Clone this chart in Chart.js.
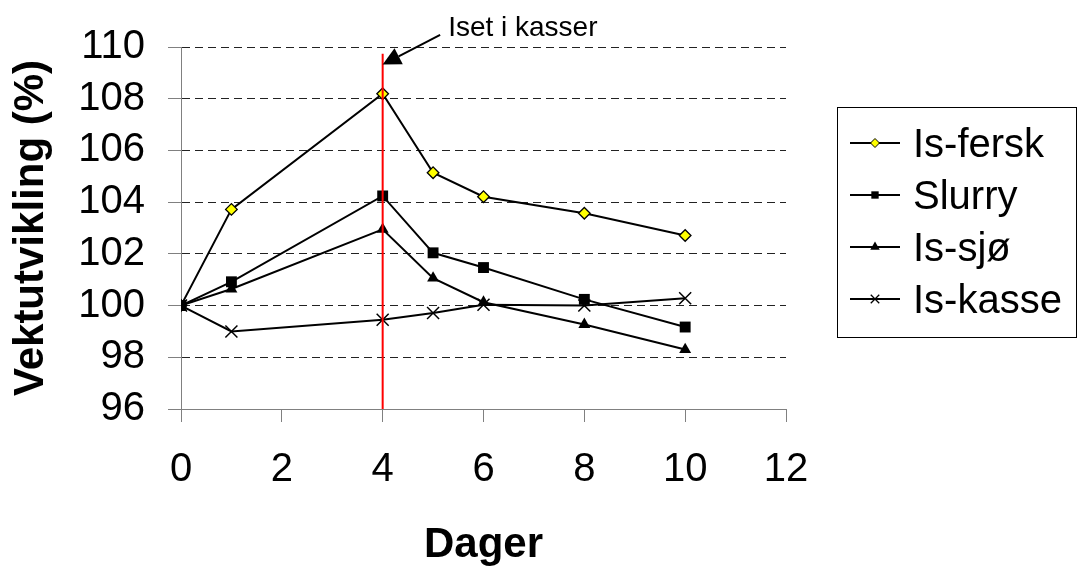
<!DOCTYPE html>
<html>
<head>
<meta charset="utf-8">
<script src="https://cdn.jsdelivr.net/npm/chart.js@4/dist/chart.umd.min.js"></script>
<style>
html,body{margin:0;padding:0;background:#fff;overflow:hidden}
canvas{display:block}
</style>
</head>
<body>
<canvas id="c" width="1077" height="566"></canvas>
<script>
// ---- data ----
const days = [0, 1, 4, 5, 6, 8, 10];
const isFersk = [100, 103.72, 108.19, 105.14, 104.21, 103.57, 102.71];
const slurry = [100, 100.92, 104.24, 102.04, 101.47, 100.24, 99.17];
const isSjo = [100, 100.64, 102.95, 101.06, 100.13, 99.27, 98.30];
const isKasse = [100, 99.00, 99.45, 99.71, 100.03, 100.00, 100.28];
const seriesNames = ['Is-fersk', 'Slurry', 'Is-sjø', 'Is-kasse'];
const xTickValues = [0, 2, 4, 6, 8, 10, 12];
const yTickValues = [96, 98, 100, 102, 104, 106, 108, 110];
const xTitle = 'Dager';
const yTitle = 'Vektutvikling (%)';
const eventDay = 4;
const eventLineTop = 109.74;
const eventLabel = 'Iset i kasser';
const arrowFrom = {x: 5.14, y: 110.47};
const arrowTip = {x: 4, y: 109.32};

const FONT = "'Liberation Sans', Arial, Helvetica, sans-serif";
const pts = vals => days.map((d, i) => ({x: d, y: vals[i]}));

function drawMarker(ctx, style, x, y, r, fill, stroke, lw) {
  ctx.save();
  ctx.fillStyle = fill; ctx.strokeStyle = stroke; ctx.lineWidth = lw;
  ctx.beginPath();
  if (style === 'rectRot') {
    ctx.moveTo(x - r, y); ctx.lineTo(x, y - r); ctx.lineTo(x + r, y); ctx.lineTo(x, y + r); ctx.closePath();
    ctx.fill(); ctx.stroke();
  } else if (style === 'rect') {
    const s = Math.SQRT1_2 * r;
    ctx.rect(x - s, y - s, 2 * s, 2 * s); ctx.fill(); if (lw > 0) ctx.stroke();
  } else if (style === 'triangle') {
    let a = 0;
    ctx.moveTo(x + Math.sin(a) * r, y - Math.cos(a) * r);
    a += 2 * Math.PI / 3; ctx.lineTo(x + Math.sin(a) * r, y - Math.cos(a) * r);
    a += 2 * Math.PI / 3; ctx.lineTo(x + Math.sin(a) * r, y - Math.cos(a) * r);
    ctx.closePath(); ctx.fill(); if (lw > 0) ctx.stroke();
  } else if (style === 'crossRot') {
    const o = Math.SQRT1_2 * r;
    ctx.moveTo(x - o, y - o); ctx.lineTo(x + o, y + o);
    ctx.moveTo(x - o, y + o); ctx.lineTo(x + o, y - o);
    ctx.stroke();
  }
  ctx.restore();
}

const legendPlugin = {
  id: 'boxLegend',
  afterDraw(chart) {
    const ctx = chart.ctx;
    const box = {left: 837, top: 107, right: 1076, bottom: 337};
    ctx.save();
    ctx.strokeStyle = '#000'; ctx.lineWidth = 1;
    ctx.strokeRect(box.left + 0.5, box.top + 0.5, box.right - box.left, box.bottom - box.top);
    const legendSizes = [4.5, 5.2, 5.5, 6];
    chart.data.datasets.forEach((ds, i) => {
      const y = 143 + i * 52;
      ctx.strokeStyle = '#000'; ctx.lineWidth = 2;
      ctx.beginPath(); ctx.moveTo(850, y); ctx.lineTo(900, y); ctx.stroke();
      drawMarker(ctx, ds.pointStyle, 875, y, legendSizes[i], ds.pointBackgroundColor, '#000', ds.pointStyle === 'rectRot' ? 1 : (ds.pointStyle === 'crossRot' ? 1.3 : 0));
      ctx.fillStyle = '#000';
      ctx.font = '40px ' + FONT;
      ctx.textAlign = 'left'; ctx.textBaseline = 'alphabetic';
      ctx.fillText(ds.label, 913, y + 14);
    });
    ctx.restore();
  }
};

const eventPlugin = {
  id: 'eventMark',
  afterDatasetsDraw(chart) {
    const ctx = chart.ctx, xs = chart.scales.x, ys = chart.scales.y;
    const ex = xs.getPixelForValue(eventDay);
    ctx.save();
    ctx.strokeStyle = '#FF0000'; ctx.lineWidth = 2;
    ctx.beginPath(); ctx.moveTo(ex, ys.getPixelForValue(eventLineTop)); ctx.lineTo(ex, ys.getPixelForValue(ys.min)); ctx.stroke();
    // arrow
    const fx = xs.getPixelForValue(arrowFrom.x), fy = ys.getPixelForValue(arrowFrom.y);
    const tx = xs.getPixelForValue(arrowTip.x), ty = ys.getPixelForValue(arrowTip.y);
    const dx = tx - fx, dy = ty - fy, len = Math.hypot(dx, dy);
    const ux = dx / len, uy = dy / len;
    const headLen = 18, headHalf = 9;
    const bx = tx - ux * headLen, by = ty - uy * headLen;
    ctx.strokeStyle = '#000'; ctx.lineWidth = 2;
    ctx.beginPath(); ctx.moveTo(fx, fy); ctx.lineTo(bx, by); ctx.stroke();
    ctx.fillStyle = '#000';
    ctx.beginPath();
    ctx.moveTo(tx, ty);
    ctx.lineTo(bx - uy * headHalf, by + ux * headHalf);
    ctx.lineTo(bx + uy * headHalf, by - ux * headHalf);
    ctx.closePath(); ctx.fill();
    ctx.font = '28px ' + FONT;
    ctx.textAlign = 'left'; ctx.textBaseline = 'alphabetic';
    ctx.fillText(eventLabel, fx + 8, fy + 1);
    ctx.restore();
  }
};

const lineDs = (label, vals, style, radius, bg, pbw, order) => ({
  label, data: pts(vals), borderColor: '#000', borderWidth: 2, tension: 0, fill: false,
  pointStyle: style, pointRadius: radius, pointHoverRadius: radius,
  pointBackgroundColor: bg, pointBorderColor: '#000', pointBorderWidth: pbw, order
});

new Chart(document.getElementById('c'), {
  type: 'line',
  data: {
    datasets: [
      lineDs(seriesNames[0], isFersk, 'rectRot', 5.8, '#FFFF00', 1.3, 3),
      lineDs(seriesNames[1], slurry, 'rect', 7.7, '#000', 0, 0),
      lineDs(seriesNames[2], isSjo, 'triangle', 6.9, '#000', 0, 1),
      lineDs(seriesNames[3], isKasse, 'crossRot', 8.5, '#000', 1.5, 2)
    ]
  },
  options: {
    responsive: false,
    animation: false,
    devicePixelRatio: 1,
    layout: {padding: {top: 44, right: 291, left: 0, bottom: 0}},
    plugins: {legend: {display: false}, tooltip: {enabled: false}},
    scales: {
      x: {
        type: 'linear', min: xTickValues[0], max: xTickValues[xTickValues.length - 1],
        afterBuildTicks: s => { s.ticks = xTickValues.map(v => ({value: v})); },
        afterFit: s => { s.height = 157; },
        ticks: {color: '#000', font: {family: FONT, size: 40}, padding: 24, maxRotation: 0},
        grid: {drawOnChartArea: false, drawTicks: true, tickLength: 13, color: '#808080', tickColor: '#808080', lineWidth: 1},
        border: {color: '#808080', width: 1},
        title: {display: true, text: xTitle, color: '#000', font: {family: FONT, size: 42, weight: 'bold', lineHeight: 1}, padding: {top: 0, bottom: 0}}
      },
      y: {
        min: yTickValues[0], max: yTickValues[yTickValues.length - 1],
        afterBuildTicks: s => { s.ticks = yTickValues.map(v => ({value: v})); },
        afterFit: s => { s.width = 181; },
        ticks: {color: '#000', font: {family: FONT, size: 40}, padding: 23},
        grid: {
          color: c => (c.tick && c.tick.value === yTickValues[0]) ? 'rgba(0,0,0,0)' : '#222',
          tickColor: '#808080', tickLength: 13, lineWidth: 1
        },
        border: {color: '#808080', width: 1, dash: [8, 5]},
        title: {display: true, text: yTitle, color: '#000', font: {family: FONT, size: 42, weight: 'bold', lineHeight: 1}, padding: {top: 10, bottom: 0}}
      }
    }
  },
  plugins: [eventPlugin, legendPlugin]
});
</script>
</body>
</html>
